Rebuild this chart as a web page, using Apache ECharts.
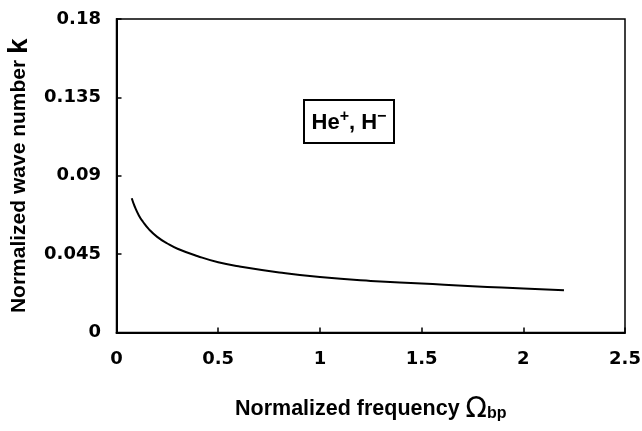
<!DOCTYPE html>
<html>
<head>
<meta charset="utf-8">
<script src="https://cdn.jsdelivr.net/npm/echarts@6/dist/echarts.min.js"></script>
<style>html,body{margin:0;padding:0;background:#fff}#c{width:642px;height:431px}</style>
</head>
<body>
<div id="c"></div>
<script>
// Data
var omega = [0.075, 0.09, 0.11, 0.13, 0.16, 0.20, 0.25, 0.30, 0.40, 0.50, 0.60, 0.80, 1.00, 1.25, 1.50, 1.75, 2.00, 2.20];
var kValues = [0.0771, 0.0722, 0.0672, 0.0636, 0.0592, 0.0549, 0.0511, 0.0481, 0.0438, 0.0403, 0.0380, 0.0345, 0.0318, 0.0296, 0.0281, 0.0265, 0.0253, 0.0243];
var xTicks = [0, 0.5, 1, 1.5, 2, 2.5];
var yTicks = [0, 0.045, 0.09, 0.135, 0.18];
var xTitle = 'Normalized frequency ';
var yTitle = 'Normalized wave number ';
var annotation = ['He', '+', ', H', '\u2212'];

var pts = omega.map(function (x, i) { return [x, kValues[i]]; });
var tickFont = { fontFamily: 'DejaVu Sans', fontWeight: 'bold', fontSize: 18, color: '#000' };
function fmt(v) { return String(parseFloat(v.toFixed(4))); }

var chart = echarts.init(document.getElementById('c'), null, { renderer: 'canvas' });
chart.setOption({
  animation: false,
  backgroundColor: '#fff',
  grid: { left: 116.5, right: 17, top: 19, bottom: 98.5, containLabel: false, outerBoundsMode: 'none',
          show: true, borderColor: '#000', borderWidth: 1.5, backgroundColor: 'transparent' },
  xAxis: {
    type: 'value', min: xTicks[0], max: xTicks[xTicks.length - 1], interval: xTicks[1] - xTicks[0],
    axisLine: { lineStyle: { color: '#000', width: 2 } },
    axisTick: { inside: true, length: 5, lineStyle: { color: '#000', width: 1.5 } },
    splitLine: { show: false },
    axisLabel: Object.assign({ margin: 18, formatter: fmt }, tickFont),
    name: xTitle + '{om|\u03A9}{sub|bp}', nameLocation: 'middle', nameGap: 63,
    nameTextStyle: {
      fontFamily: 'Liberation Sans', fontWeight: 'bold', fontSize: 21.5, color: '#000',
      rich: {
        om: { fontFamily: 'DejaVu Sans', fontSize: 28, fontWeight: 'normal', color: '#000' },
        sub: { fontFamily: 'Liberation Sans', fontSize: 16, fontWeight: 'bold', color: '#000', padding: [8, 0, 0, 0] }
      }
    }
  },
  yAxis: {
    type: 'value', min: yTicks[0], max: yTicks[yTicks.length - 1], interval: yTicks[1] - yTicks[0],
    axisLine: { lineStyle: { color: '#000', width: 2 } },
    axisTick: { inside: true, length: 5, lineStyle: { color: '#000', width: 1.5 } },
    splitLine: { show: false },
    axisLabel: Object.assign({ margin: 15.5, formatter: fmt }, tickFont),
    name: yTitle + '{k|k}', nameLocation: 'middle', nameGap: 83,
    nameTextStyle: {
      fontFamily: 'Liberation Sans', fontWeight: 'bold', fontSize: 21, color: '#000',
      rich: { k: { fontFamily: 'Liberation Sans', fontWeight: 'bold', fontSize: 28, color: '#000' } }
    }
  },
  series: [{
    type: 'line', data: pts, smooth: 0.5, showSymbol: false,
    lineStyle: { color: '#000', width: 2 }
  }],
  graphic: [
    { type: 'rect', shape: { x: 304, y: 100, width: 90, height: 43 }, style: { fill: '#fff', stroke: '#000', lineWidth: 2 } },
    { type: 'text', x: 349, y: 123,
      style: {
        text: annotation[0] + '{sup|' + annotation[1] + '}' + annotation[2] + '{sup|' + annotation[3] + '}',
        align: 'center', verticalAlign: 'middle',
        font: 'bold 22px "Liberation Sans"', fill: '#000',
        rich: { sup: { fontFamily: 'Liberation Sans', fontWeight: 'bold', fontSize: 16, fill: '#000', padding: [0, 0, 12, 0] } }
      } }
  ]
});
</script>
</body>
</html>
